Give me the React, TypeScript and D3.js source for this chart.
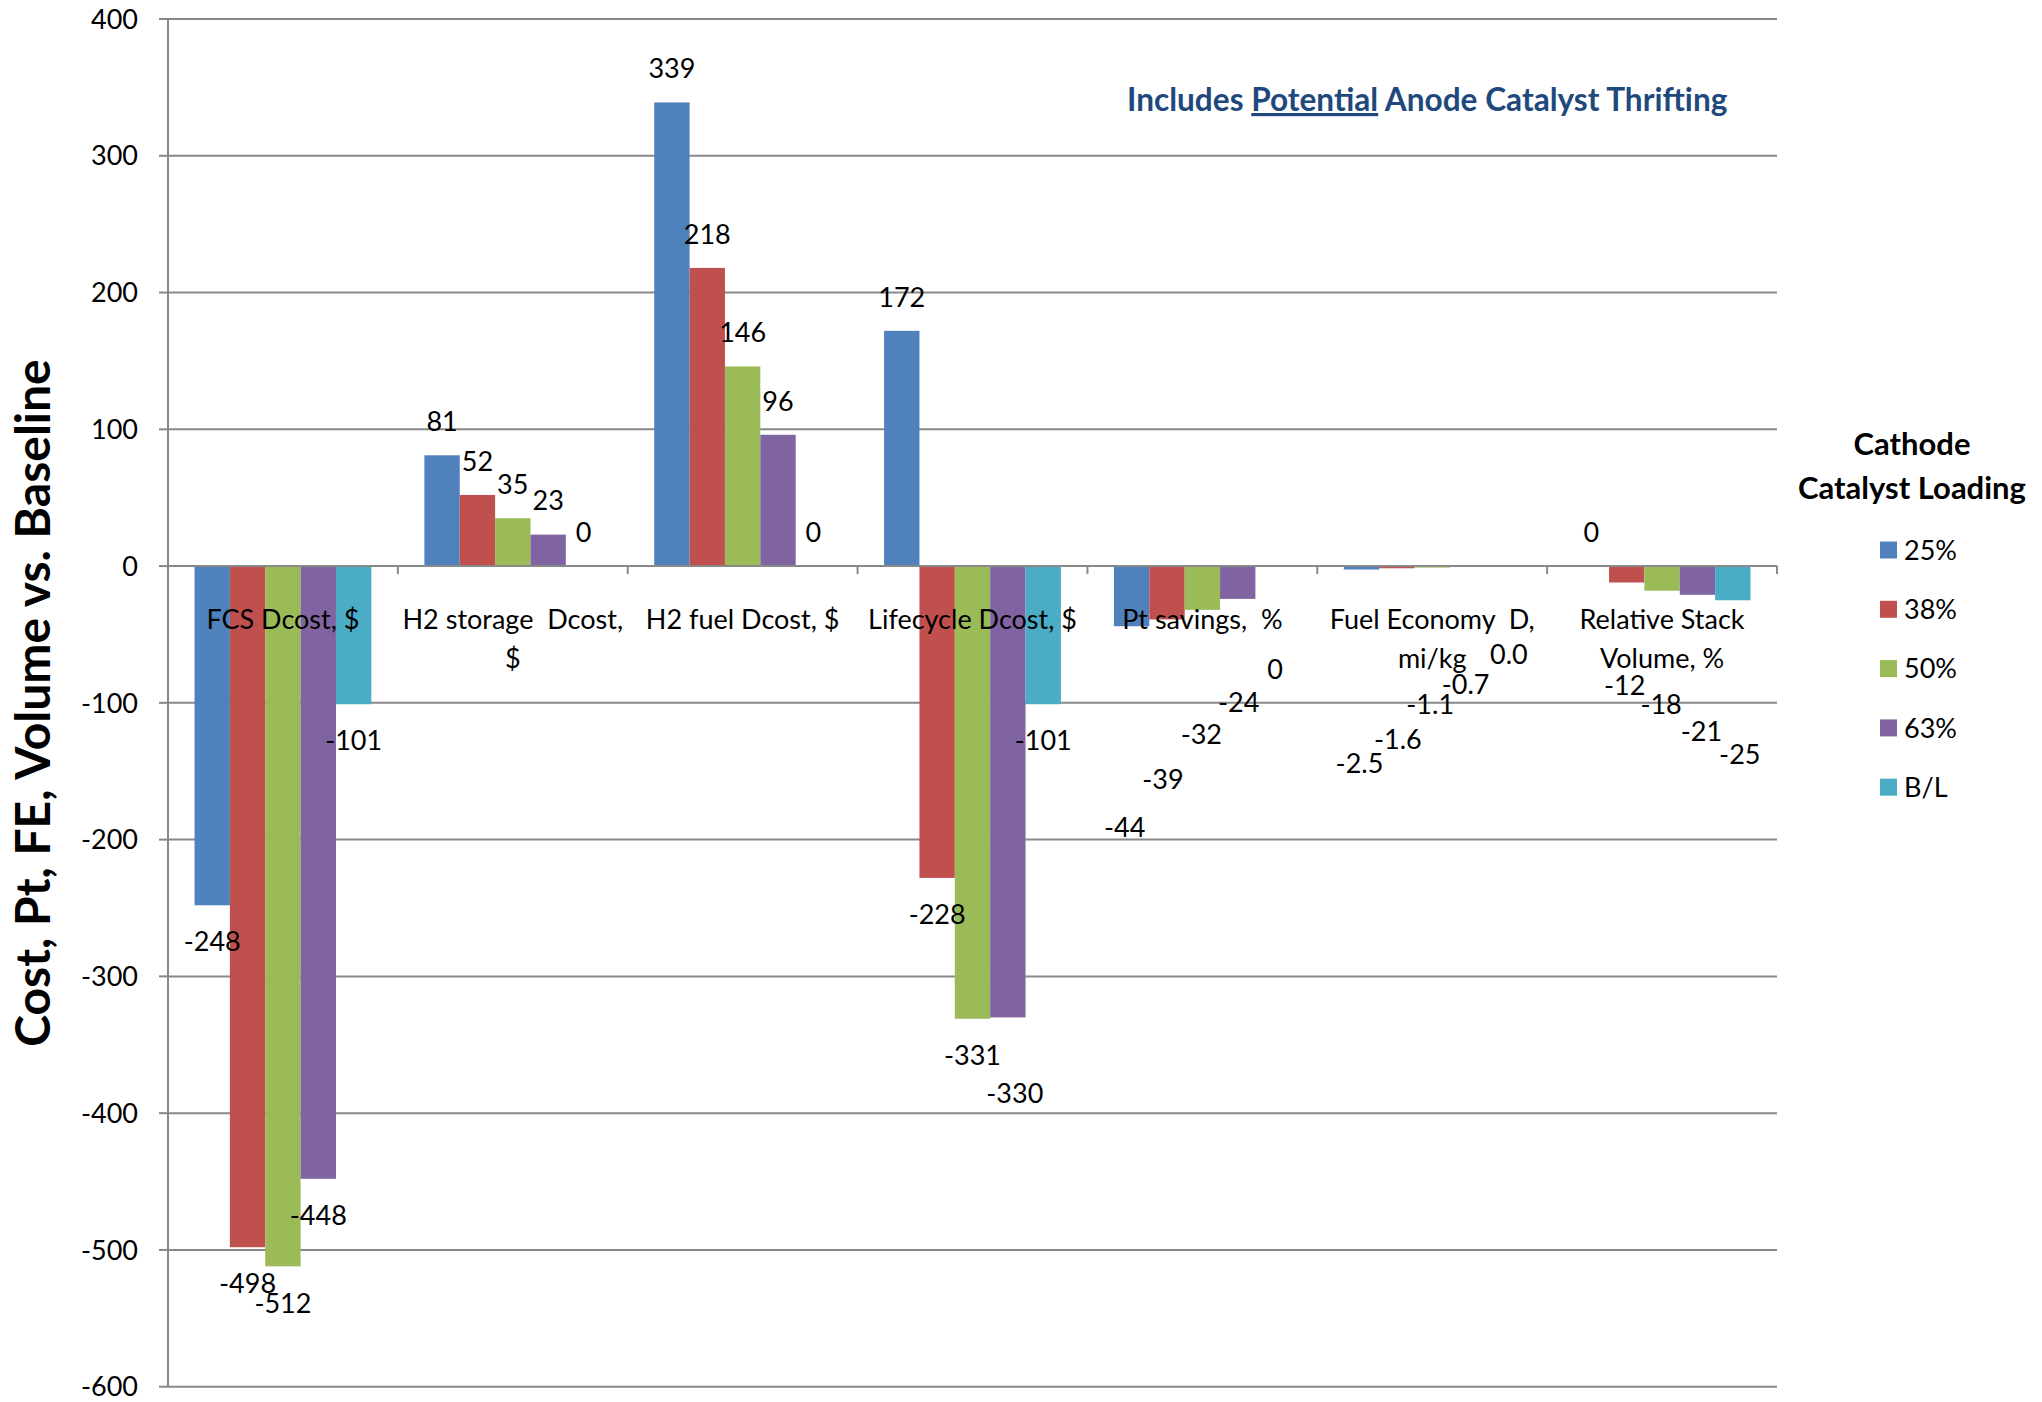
import React from "react";
import * as d3 from "d3";

// Categories (each entry is the wrapped label lines)
const categories: string[][] = [
  ["FCS Dcost, $"],
  ["H2 storage  Dcost,", "$"],
  ["H2 fuel Dcost, $"],
  ["Lifecycle Dcost, $"],
  ["Pt savings,  %"],
  ["Fuel Economy  D,", "mi/kg"],
  ["Relative Stack", "Volume, %"],
];

const seriesNames = ["25%", "38%", "50%", "63%", "B/L"];
const seriesColors = ["#4F81BD", "#C0504D", "#9BBB59", "#8064A2", "#4BACC6"];

// Series values, one per category
const load25 = [-248, 81, 339, 172, -44, -2.5, 0];
const load38 = [-498, 52, 218, -228, -39, -1.6, -12];
const load50 = [-512, 35, 146, -331, -32, -1.1, -18];
const load63 = [-448, 23, 96, -330, -24, -0.7, -21];
const loadBL = [-101, 0, 0, -101, 0, 0.0, -25];
const seriesValues = [load25, load38, load50, load63, loadBL];

// Decimal places used when printing the value labels of each category
const labelDecimals = [0, 0, 0, 0, 0, 1, 0];

const yTicks = [400, 300, 200, 100, 0, -100, -200, -300, -400, -500, -600];

// Manually dragged value labels: [category][series] -> [dx, dy] in px
const labelNudge: Record<string, [number, number]> = {
  "3-3": [7, 39],
  "4-0": [-7, 165],
  "4-1": [-4, 123],
  "4-2": [-1, 88],
  "4-3": [1, 67],
  "4-4": [2, 137],
  "5-0": [-2, 157],
  "5-1": [1, 135],
  "5-2": [-2, 100],
  "5-3": [-2, 81],
  "5-4": [6, 122],
  "6-1": [-2, 66],
  "6-2": [-1, 77],
  "6-3": [4, 100],
  "6-4": [7, 118],
};

const W = 2042;
const H = 1402;
const plotLeft = 168;
const plotRight = 1777;
const plotTop = 19;
const plotBottom = 1386.7;

const FONT = "Lato, 'Open Sans', sans-serif";
const GRID = "#898989";

export default function App() {
  const y = d3.scaleLinear().domain([-600, 400]).range([plotBottom, plotTop]);
  const x0 = d3
    .scaleBand<number>()
    .domain(d3.range(categories.length))
    .range([plotLeft, plotRight])
    .padding(0);
  const x1 = d3
    .scaleBand<number>()
    .domain(d3.range(seriesNames.length))
    .range([0, x0.bandwidth()])
    .paddingInner(0)
    .paddingOuter(0.75);

  const zeroY = y(0);

  const bars: React.ReactNode[] = [];
  const labels: React.ReactNode[] = [];
  seriesValues.forEach((vals, s) => {
    vals.forEach((v, c) => {
      const bx = (x0(c) ?? 0) + (x1(s) ?? 0);
      const bw = x1.bandwidth();
      const yv = y(v);
      bars.push(
        <rect
          key={`b-${s}-${c}`}
          x={bx}
          y={Math.min(yv, zeroY)}
          width={bw}
          height={Math.abs(yv - zeroY)}
          fill={seriesColors[s]}
        />
      );
      const nudge = labelNudge[`${c}-${s}`] ?? [0, 0];
      const ly = v >= 0 ? yv - 34 : yv + 36.5;
      labels.push(
        <text
          key={`l-${s}-${c}`}
          x={bx + bw / 2 + nudge[0]}
          y={ly + nudge[1]}
          dy="0.36em"
          textAnchor="middle"
          fontSize={27}
          fill="#000"
        >
          {v.toFixed(labelDecimals[c])}
        </text>
      );
    });
  });

  return (
    <svg
      width={W}
      height={H}
      viewBox={`0 0 ${W} ${H}`}
      style={{ position: "absolute", left: 0, top: 0, background: "#fff" }}
      fontFamily={FONT}
    >
      <rect x={0} y={0} width={W} height={H} fill="#fff" />

      {/* horizontal gridlines and y ticks */}
      {yTicks.map((t) => (
        <g key={`g-${t}`}>
          {t !== 0 && (
            <line x1={plotLeft} x2={plotRight} y1={y(t)} y2={y(t)} stroke={GRID} strokeWidth={2} />
          )}
          <line x1={plotLeft - 9} x2={plotLeft} y1={y(t)} y2={y(t)} stroke={GRID} strokeWidth={2} />
          <text x={138} y={y(t)} dy="0.36em" textAnchor="end" fontSize={27} fill="#000">
            {t}
          </text>
        </g>
      ))}

      {/* vertical axis */}
      <line x1={plotLeft} x2={plotLeft} y1={plotTop} y2={plotBottom} stroke={GRID} strokeWidth={2} />

      {bars}

      {/* category axis at zero */}
      <line x1={plotLeft} x2={plotRight} y1={zeroY} y2={zeroY} stroke={GRID} strokeWidth={2} />
      {d3.range(1, categories.length + 1).map((i) => {
        const xx = plotLeft + i * x0.step();
        return <line key={`xt-${i}`} x1={xx} x2={xx} y1={zeroY} y2={zeroY + 8} stroke={GRID} strokeWidth={2} />;
      })}

      {/* category labels */}
      {categories.map((lines, c) => (
        <text
          key={`c-${c}`}
          textAnchor="middle"
          fontSize={27}
          fill="#000"
          style={{ whiteSpace: "pre" }}
        >
          {lines.map((ln, k) => (
            <tspan key={k} x={(x0(c) ?? 0) + x0.bandwidth() / 2} y={619 + k * 39} dy="0.36em">
              {ln}
            </tspan>
          ))}
        </text>
      ))}

      {labels}

      {/* y-axis title */}
      <text
        transform={`translate(50, 703) rotate(-90)`}
        textAnchor="middle"
        fontSize={48}
        fontWeight="bold"
        fill="#000"
      >
        Cost, Pt, FE, Volume vs. Baseline
      </text>

      {/* annotation */}
      <text x={1127} y={111} fontSize={31.6} fontWeight="bold" fill="#1F497D" style={{ whiteSpace: "pre" }}>
        <tspan>Includes </tspan>
        <tspan style={{ textDecoration: "underline" }}>Potential</tspan>
        <tspan> Anode Catalyst Thrifting</tspan>
      </text>

      {/* legend */}
      <text x={1912} y={444} dy="0.36em" textAnchor="middle" fontSize={31} fontWeight="bold" fill="#000">
        Cathode
      </text>
      <text x={1912} y={488} dy="0.36em" textAnchor="middle" fontSize={31} fontWeight="bold" fill="#000">
        Catalyst Loading
      </text>
      {seriesNames.map((name, i) => {
        const cy = 550 + i * 59.3;
        return (
          <g key={`lg-${i}`}>
            <rect x={1880} y={cy - 8.5} width={17} height={17} fill={seriesColors[i]} />
            <text x={1904} y={cy} dy="0.36em" fontSize={27} fill="#000">
              {name}
            </text>
          </g>
        );
      })}
    </svg>
  );
}
